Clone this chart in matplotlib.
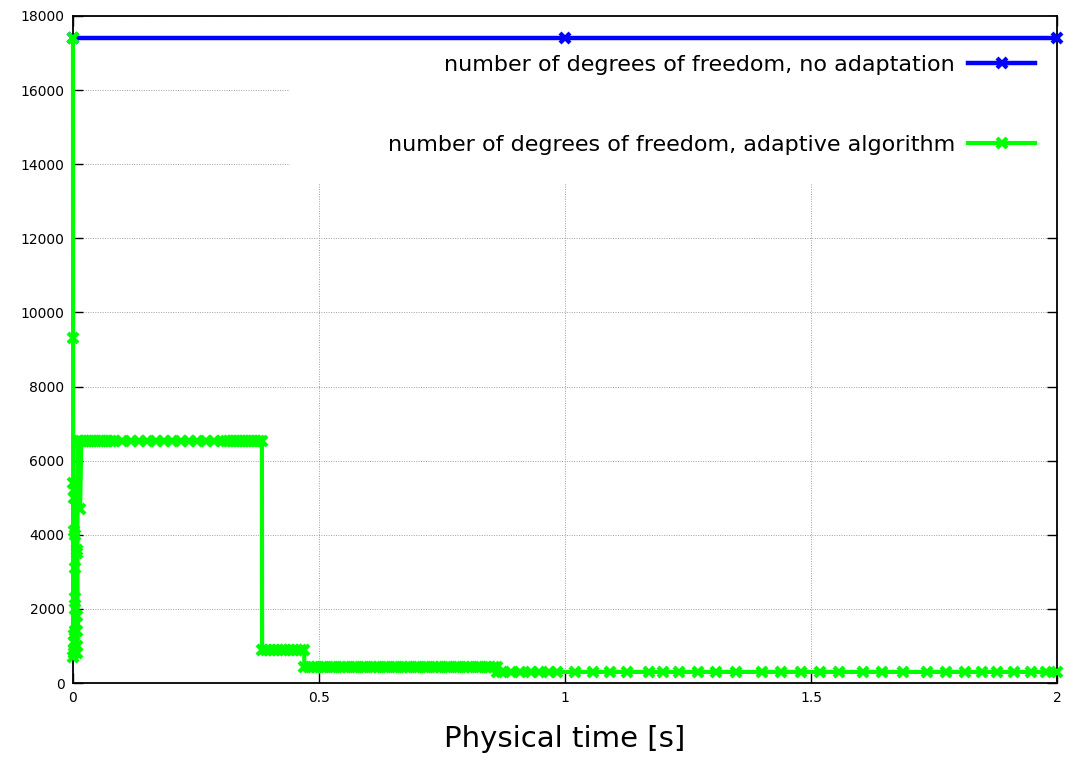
#!/usr/bin/env python3
# -*- coding: utf-8 -*-

import matplotlib
matplotlib.use('Agg')
import matplotlib.pyplot as plt
from matplotlib.patches import Rectangle

# no adaptation: constant number of dofs
t_ref = [0.0, 1.0, 2.0]
dofs_ref = [17400, 17400, 17400]

# adaptive algorithm
t_start = [0.0, 0.0003, 0.0006, 0.0009, 0.0012, 0.0015, 0.0018, 0.0021,
           0.0024, 0.0027, 0.003, 0.0033, 0.0036, 0.0039, 0.0042, 0.0045,
           0.0075, 0.0078, 0.0081, 0.0084, 0.0087, 0.009, 0.0093, 0.012,
           0.0145]
dofs_start = [17400, 9300, 700, 5400, 800, 5200, 900, 5000,
              1100, 4100, 1300, 4000, 1400, 3100, 2300, 2000,
              3600, 800, 3500, 1000, 1800, 1400, 6540, 6540,
              4700]

t_plateau = [0.017, 0.022, 0.027, 0.032, 0.037, 0.042, 0.047, 0.052, 0.057,
             0.062, 0.067, 0.072, 0.077, 0.083, 0.100, 0.118, 0.134, 0.151,
             0.169, 0.185, 0.201, 0.220, 0.236, 0.252, 0.271, 0.287, 0.303,
             0.312, 0.318, 0.324, 0.330, 0.336, 0.342, 0.348, 0.354, 0.360,
             0.366, 0.372, 0.378, 0.384]
dofs_plateau = 6540

t_mid = [0.3845, 0.392, 0.400, 0.408, 0.416, 0.424, 0.432, 0.440, 0.448,
         0.456, 0.464, 0.470]
dofs_mid = 900

t_low = [0.4705, 0.479, 0.488, 0.497, 0.506, 0.515, 0.524, 0.533, 0.542,
         0.551, 0.560, 0.569, 0.578, 0.587, 0.596, 0.605, 0.614, 0.623,
         0.632, 0.641, 0.650, 0.659, 0.668, 0.677, 0.686, 0.695, 0.704,
         0.713, 0.722, 0.731, 0.740, 0.749, 0.758, 0.767, 0.776, 0.785,
         0.794, 0.803, 0.812, 0.821, 0.830, 0.839, 0.848, 0.856, 0.861]
dofs_low = 440

t_end = [0.8615, 0.873, 0.891, 0.909, 0.930, 0.948, 0.968, 0.983, 1.021,
         1.056, 1.091, 1.127, 1.170, 1.200, 1.231, 1.270, 1.308, 1.347,
         1.400, 1.439, 1.479, 1.518, 1.556, 1.605, 1.644, 1.687, 1.736,
         1.774, 1.813, 1.847, 1.878, 1.913, 1.948, 1.978, 2.0]
dofs_end = 300

x_ticks = [0, 0.5, 1, 1.5, 2]
x_tick_labels = ['0', '0.5', '1', '1.5', '2']
y_ticks = [0, 2000, 4000, 6000, 8000, 10000, 12000, 14000, 16000, 18000]


if __name__ == '__main__':

    t_adapt = t_start + t_plateau + t_mid + t_low + t_end
    dofs_adapt = (dofs_start + [dofs_plateau] * len(t_plateau)
                  + [dofs_mid] * len(t_mid) + [dofs_low] * len(t_low)
                  + [dofs_end] * len(t_end))

    fig = plt.figure(figsize=(10.76, 7.58), dpi=100)
    ax = fig.add_axes([0.0678, 0.0989, 0.9145, 0.88])

    ax.plot(t_ref, dofs_ref, color='#0000ff', lw=3.2, marker='x', ms=7,
            mew=3, label='number of degrees of freedom, no adaptation',
            zorder=3, clip_on=False)
    ax.plot(t_adapt, dofs_adapt, color='#00ff00', lw=3, marker='x', ms=7,
            mew=3, label='number of degrees of freedom, adaptive algorithm',
            zorder=4, clip_on=False)

    ax.set_xlim(0, 2)
    ax.set_ylim(0, 18000)
    ax.set_xticks(x_ticks)
    ax.set_xticklabels(x_tick_labels)
    ax.set_yticks(y_ticks)
    ax.tick_params(direction='in', top=True, right=True, length=7, width=1,
                   labelsize=10, pad=6)
    for s in ax.spines.values():
        s.set_linewidth(1.3)

    ax.grid(True, color='#a0a0a0', ls=(0, (1, 1.5)), lw=0.7, zorder=0)
    ax.set_axisbelow(True)

    # white box behind the key, hides the grid like gnuplot does
    ax.add_patch(Rectangle((0.2205, 0.75), 0.7795, 0.25, transform=ax.transAxes,
                           facecolor='white', edgecolor='none', zorder=1))

    ax.set_xlabel('Physical time [s]', fontsize=21, labelpad=14)

    leg = ax.legend(loc='upper right', bbox_to_anchor=(0.9776, 0.9415),
                    frameon=False, markerfirst=False, fontsize=16,
                    handlelength=3.0, handletextpad=0.6, labelspacing=2.68,
                    borderpad=0, borderaxespad=0)

    fig.savefig('out.png', dpi=100)
